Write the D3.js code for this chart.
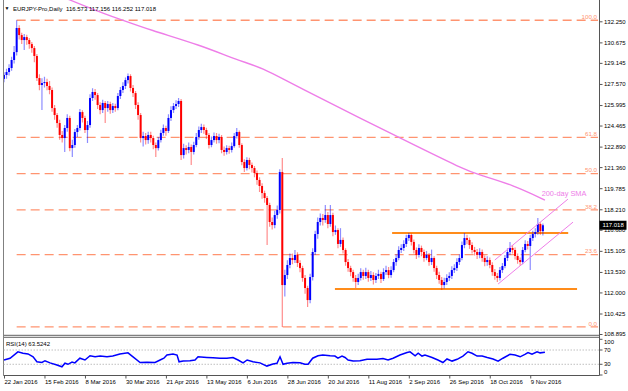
<!DOCTYPE html>
<html><head><meta charset="utf-8">
<script src="https://cdn.jsdelivr.net/npm/d3@7"></script>
<style>
html,body{margin:0;padding:0;background:#fff;}
svg{display:block;font-family:"Liberation Sans",Arial,sans-serif;}
</style></head><body>
<svg id="chart" width="628" height="391"></svg>
<script>
// ---------------- DATA ----------------
const symbolName = "EURJPY-Pro,Daily";
const lastOHLC = [116.573, 117.156, 116.252, 117.018];
const firstOpen = 127.95;
const closes = [
128.24,128.46,128.76,129.36,129.95,131.75,131.22,130.85,131.07,130.85,
130.55,130.25,129.66,128.01,127.49,127.64,127.71,127.42,127.12,125.77,
125.25,124.65,123.76,123.53,124.28,125.03,122.78,123.01,123.98,124.28,
125.47,125.03,124.13,124.50,126.52,126.97,126.74,126.00,125.62,126.15,
125.77,126.07,125.62,125.92,125.77,126.67,127.12,127.42,127.86,128.16,
127.27,126.89,126.00,125.25,123.53,123.68,123.38,123.76,123.53,123.01,
122.78,123.38,123.91,124.28,124.06,125.03,125.62,125.92,126.07,126.30,
122.26,122.78,122.64,122.86,122.49,123.01,123.61,124.13,124.35,124.13,
123.76,123.01,123.38,123.68,123.38,123.61,122.64,122.49,122.78,122.64,
122.93,123.68,123.98,123.01,121.74,121.29,121.89,121.52,121.29,120.92,
120.40,119.95,119.42,119.05,118.53,117.26,117.03,117.78,118.16,120.99,
112.55,113.30,114.05,114.57,114.42,114.80,114.20,113.82,113.08,112.33,
111.43,113.15,115.02,116.36,117.26,117.56,117.41,117.78,117.11,117.78,
116.51,116.66,115.62,115.92,115.17,114.27,113.82,113.52,113.08,112.78,
113.08,113.52,113.23,113.52,113.08,113.30,112.93,113.23,113.38,113.00,
113.52,113.67,113.30,113.67,114.27,114.57,115.17,115.32,115.62,116.06,
116.29,115.77,115.17,114.80,115.32,115.02,114.57,114.80,114.27,114.57,
113.82,113.30,112.93,112.55,112.78,113.08,113.23,113.67,113.82,114.27,
114.57,115.54,116.06,115.92,115.54,115.17,115.02,114.80,115.02,114.57,
114.27,114.42,114.05,113.52,113.23,113.08,113.67,113.97,114.57,115.02,
115.32,115.17,114.72,114.42,114.27,115.17,115.62,115.47,116.06,116.36,
116.51,117.11,116.573,117.018];
const highs = [
128.45,128.70,129.05,129.60,130.40,132.33,131.95,131.40,131.30,131.25,
131.00,130.70,130.40,129.80,128.30,128.00,128.10,127.95,127.80,127.30,
126.00,125.40,124.90,124.05,124.50,125.30,125.20,123.40,124.20,124.50,
125.70,125.60,125.20,124.80,126.80,127.25,127.20,126.90,126.20,126.40,
126.30,126.30,126.25,126.15,126.10,126.90,127.35,127.70,128.05,128.35,
128.30,127.50,127.05,126.20,125.40,124.00,123.90,124.00,124.00,123.70,
123.20,123.60,124.15,124.55,124.45,125.30,125.90,126.15,126.35,126.52,
126.45,123.10,123.00,123.20,123.05,123.25,123.90,124.40,124.60,124.55,
124.30,123.90,123.65,123.95,123.90,123.85,123.75,122.90,123.00,122.95,
123.20,123.90,124.28,124.10,123.15,121.95,122.10,122.05,121.70,121.45,
121.10,120.60,120.15,119.60,119.20,118.70,117.60,118.10,118.50,121.20,
122.04,113.70,114.40,114.90,114.90,115.17,115.00,114.40,114.00,113.30,
112.50,113.40,115.30,116.60,117.60,117.90,117.85,118.53,118.00,118.53,
117.95,117.00,116.80,116.80,116.10,115.30,114.50,114.00,113.70,113.30,
113.40,113.80,113.70,113.85,113.70,113.60,113.50,113.45,113.70,113.55,
113.80,114.00,113.90,113.95,114.50,114.85,115.45,115.60,115.90,116.30,
116.44,116.40,115.95,115.35,115.60,115.50,115.20,115.10,114.95,115.20,
114.70,114.00,113.55,113.15,113.10,113.35,113.50,113.95,114.10,114.55,
114.85,115.80,116.44,116.30,116.10,115.75,115.40,115.25,115.30,115.20,
114.75,114.70,114.60,114.25,113.75,113.45,113.90,114.20,114.80,115.30,
115.77,115.55,115.35,114.90,114.60,115.40,115.90,115.85,116.30,116.60,
116.80,117.56,117.25,117.156];
const lows = [
127.70,127.95,128.20,128.55,129.10,129.70,130.90,130.55,130.10,130.50,
130.20,129.90,129.20,127.80,127.10,125.62,127.30,127.10,126.80,125.50,
124.90,124.30,123.40,123.20,122.49,124.00,122.55,122.11,122.80,123.60,
124.10,124.70,123.90,123.16,124.30,126.30,126.40,125.70,125.30,125.40,
124.65,125.50,125.35,125.40,125.50,125.60,126.45,126.90,127.20,127.60,
127.00,126.60,125.70,124.90,123.20,122.90,123.05,123.10,123.20,122.70,
122.11,122.60,123.20,123.70,123.70,123.90,124.80,125.40,125.70,125.85,
121.90,122.00,122.30,122.40,121.52,122.30,122.85,123.40,123.90,123.85,
123.45,122.75,122.85,123.20,123.10,123.15,122.40,122.20,122.30,122.35,
122.45,122.80,123.50,122.80,121.50,121.00,121.10,121.20,120.95,120.60,
120.05,119.50,119.00,118.70,115.54,116.90,116.70,116.80,117.50,117.90,
109.42,111.70,113.00,113.80,114.10,114.20,113.90,113.50,112.80,111.90,
110.91,111.20,112.90,114.80,116.00,117.00,117.00,117.20,116.80,116.90,
116.20,116.30,115.30,115.40,114.90,114.00,113.55,113.20,112.80,112.33,
112.55,112.90,112.95,113.00,112.80,112.85,112.60,112.70,113.00,112.70,
112.85,113.30,113.05,113.10,113.50,114.00,114.40,114.95,115.10,115.40,
115.85,115.50,114.90,114.50,114.60,114.70,114.30,114.40,114.00,114.05,
113.55,113.00,112.65,112.18,112.30,112.55,112.85,113.00,113.45,113.60,
114.05,114.40,115.30,115.60,115.25,114.90,114.75,114.50,114.55,114.30,
113.95,114.00,113.80,113.25,112.95,112.78,112.90,113.45,113.80,114.35,
114.80,114.90,114.45,114.15,114.00,114.10,115.00,115.20,113.67,115.85,
116.10,116.30,116.30,116.252];

// 200-day SMA, read at bar positions
const smaIdx = [24, 36, 44.7, 57.7, 77.5, 92.1, 102.4, 113, 156.5, 182.2, 188.1, 201.2, 213.8];
const smaVal = [134.0, 133.07, 132.48, 131.60, 130.48, 129.36, 128.76, 127.64, 123.53, 121.14, 120.77, 120.02, 118.90];

// RSI(14)
const rsiIdx = [0,2.4,5.5,7.5,9.5,11.5,13,15,16.2,18.2,20.9,22.9,24.1,25.3,26.9,28,30,32,34,36,38,40.7,43,45.8,49,51,53.8,56.5,59.7,61.7,63.2,64.4,66.8,68.4,69.2,70.8,73.5,75.5,76.7,80.2,82.6,85.4,88.1,90.5,92.5,94.5,96.1,98.4,101.2,103.9,106.3,107.9,109.1,110.3,111.9,114.2,117,118.9,120.2,122,124.1,126,128.9,130.8,132,133.6,134.8,136,138,140.7,143.5,147.4,149.8,151.8,153.8,156.5,159.3,160.5,162.5,163.7,165.2,166.4,169.2,171.5,173.5,175.1,177.1,179.1,181.4,183.4,185,187,189,191,193.3,195.3,197.2,200,202,204,205.9,207.1,208.7,210.7,211.9,213.8];
const rsiVal = [42,47,65,61,59,51,37,35,40,34,28,23,33,30,36,34,47,42,54,51,53,51,53,59,62,51,35,36,35,42,47,56,59,56,37,39,40,42,51,49,48,47,47,49,42,34,42,37,34,25,31,33,51,30,33,35,34,30,30,47,54,56,54,53,47,53,49,42,39,40,44,44,46,42,47,56,63,65,54,61,53,56,49,42,35,45,39,44,53,65,61,53,53,49,45,39,47,58,56,51,58,63,58,65,62,63.52];
const rsiLabel = "RSI(14) 63.5242";
const rsiLevels = [70, 30];
const rsiTicks = [100, 70, 30, 0];

// Fibonacci retracement (high -> low)
const fibHigh = 132.33, fibLow = 109.42, fibStartIdx = 5;
const fibLevels = [0, 23.6, 38.2, 50, 61.8, 100];

// Support / resistance (orange) lines
const srLines = [
  {from: 153.4, to: 223, price: 116.43},
  {from: 130.8, to: 226.5, price: 112.25}
];
// Rising channel (violet)
const channel = [
  {i1: 194, p1: 114.42, i2: 222.9, p2: 118.97},
  {i1: 195.3, p1: 112.63, i2: 224.9, p2: 117.25}
];
const smaLabel = {text: "200-day SMA", idx: 212.5, price: 119.45};

const priceTicks = [108.895,110.425,112.000,113.530,115.105,116.680,118.210,119.785,121.360,122.890,124.465,125.995,127.570,129.145,130.675,132.250];
const dateIdx = [0,16,32,48,64,80,96,112,128,144,160,176,192,208];
const dateLabels = ["22 Jan 2016","15 Feb 2016","8 Mar 2016","30 Mar 2016","21 Apr 2016","13 May 2016","6 Jun 2016","28 Jun 2016","20 Jul 2016","11 Aug 2016","2 Sep 2016","26 Sep 2016","18 Oct 2016","9 Nov 2016"];

// ---------------- DRAW ----------------
const svg = d3.select("#chart");
const L = 3.5, R = 599.5, mainBottom = 335.5, rsiTop = 337.5, rsiBottom = 375.5;

const x = d3.scaleLinear().domain([0, 234.78]).range([4, 598]);
const y = d3.scaleLinear().domain([108.895, 132.25]).range([334, 21.3]);
const yr = d3.scaleLinear().domain([0, 100]).range([375, 339.3]);

const bars = closes.map((c, i) => ({i, o: i === 0 ? firstOpen : closes[i-1], h: highs[i], l: lows[i], c}));

svg.append("defs").append("clipPath").attr("id", "clipMain")
  .append("rect").attr("x", L).attr("y", 0).attr("width", R - L).attr("height", mainBottom);
const main = svg.append("g").attr("clip-path", "url(#clipMain)");

// fib lines
const fibColor = "#ff9470";
fibLevels.forEach(lv => {
  const p = fibLow + (fibHigh - fibLow) * lv / 100;
  main.append("line")
    .attr("x1", x(fibStartIdx)).attr("x2", 598)
    .attr("y1", y(p)).attr("y2", y(p))
    .attr("stroke", fibColor).attr("stroke-width", 1.3)
    .attr("stroke-dasharray", "9,5");
  main.append("text")
    .attr("x", 597).attr("y", y(p) - 1.2)
    .attr("text-anchor", "end").attr("font-size", 6.2)
    .attr("fill", fibColor).text(lv.toFixed(1));
});

// orange S/R lines
srLines.forEach(s => {
  main.append("line")
    .attr("x1", x(s.from)).attr("x2", x(s.to))
    .attr("y1", y(s.price)).attr("y2", y(s.price))
    .attr("stroke", "#ff8c1a").attr("stroke-width", 2);
});

// candles
const cg = main.append("g");
cg.selectAll("line.wick").data(bars).join("line")
  .attr("class", "wick")
  .attr("x1", d => x(d.i)).attr("x2", d => x(d.i))
  .attr("y1", d => y(d.h)).attr("y2", d => y(d.l))
  .attr("stroke", d => d.c >= d.o ? "#0000ff" : "#ff0000")
  .attr("stroke-opacity", 0.45).attr("stroke-width", 1.2);
cg.selectAll("rect.body").data(bars).join("rect")
  .attr("class", "body")
  .attr("x", d => x(d.i) - 1).attr("width", 2)
  .attr("y", d => y(Math.max(d.o, d.c)))
  .attr("height", d => Math.max(1, Math.abs(y(d.o) - y(d.c))))
  .attr("fill", d => d.c >= d.o ? "#0000ff" : "#ff0000");

// SMA
const violet = "#ee7ee8";
main.append("path")
  .datum(smaIdx.map((v, k) => [v, smaVal[k]]))
  .attr("fill", "none").attr("stroke", violet).attr("stroke-width", 1.4)
  .attr("d", d3.line().x(d => x(d[0])).y(d => y(d[1])).curve(d3.curveBasis));
main.append("text")
  .attr("x", x(smaLabel.idx)).attr("y", y(smaLabel.price) + 3)
  .attr("font-size", 7.4).attr("fill", violet).text(smaLabel.text);

// channel
channel.forEach(c => {
  main.append("line")
    .attr("x1", x(c.i1)).attr("y1", y(c.p1))
    .attr("x2", x(c.i2)).attr("y2", y(c.p2))
    .attr("stroke", violet).attr("stroke-width", 1);
});

// header
const hdr = svg.append("g");
hdr.append("text").attr("x", 4.5).attr("y", 10.3).attr("font-size", 5).attr("fill", "#000").text("▼");
hdr.append("text").attr("x", 13).attr("y", 11).attr("font-size", 6).attr("fill", "#000").text(symbolName);
hdr.append("text").attr("x", 66).attr("y", 11).attr("font-size", 6).attr("fill", "#000").text(lastOHLC.map(v => v.toFixed(3)).join(" "));

// frames
const frame = svg.append("g").attr("stroke", "#808080").attr("fill", "none");
frame.append("line").attr("x1", L).attr("x2", L).attr("y1", 0).attr("y2", rsiBottom);
frame.append("line").attr("x1", L).attr("x2", R).attr("y1", mainBottom).attr("y2", mainBottom).attr("stroke-width", 1.5);
frame.append("line").attr("x1", L).attr("x2", R).attr("y1", rsiTop).attr("y2", rsiTop);
frame.append("line").attr("x1", L).attr("x2", R).attr("y1", rsiBottom).attr("y2", rsiBottom).attr("stroke", "#555");
frame.append("line").attr("x1", R).attr("x2", R).attr("y1", 0).attr("y2", rsiBottom).attr("stroke", "#555");

// price axis
const yAxis = svg.append("g").attr("transform", `translate(${R},0)`)
  .call(d3.axisRight(y).tickValues(priceTicks).tickSize(3).tickPadding(1.5).tickFormat(d => d.toFixed(3)));
yAxis.select(".domain").remove();
yAxis.selectAll("line").attr("stroke", "#555");
yAxis.selectAll("text").attr("font-size", 6).attr("fill", "#000").attr("font-family", "Liberation Sans, Arial, sans-serif");

// current price box
const cy = y(lastOHLC[3]);
svg.append("rect").attr("x", R).attr("y", cy - 4.5).attr("width", 27).attr("height", 9).attr("fill", "#000");
svg.append("text").attr("x", R + 3).attr("y", cy + 2.2).attr("font-size", 6).attr("fill", "#fff").text(lastOHLC[3].toFixed(3));

// RSI panel
const rg = svg.append("g");
rsiLevels.forEach(v => {
  rg.append("line").attr("x1", L).attr("x2", R).attr("y1", yr(v)).attr("y2", yr(v))
    .attr("stroke", "#b0b0b0").attr("stroke-width", 0.8).attr("stroke-dasharray", "1.5,1.5");
});
rg.append("path")
  .datum(rsiIdx.map((v, k) => [v, rsiVal[k]]))
  .attr("fill", "none").attr("stroke", "#0000ff").attr("stroke-width", 1.5)
  .attr("d", d3.line().x(d => x(d[0])).y(d => yr(d[1])));
rg.append("text").attr("x", 6).attr("y", 346.2).attr("font-size", 6).attr("fill", "#000").text(rsiLabel);
rsiTicks.forEach(v => {
  const ty = Math.min(372, Math.max(342, yr(v)));
  rg.append("line").attr("x1", R).attr("x2", R + 3).attr("y1", yr(v)).attr("y2", yr(v)).attr("stroke", "#555");
  rg.append("text").attr("x", R + 4.5).attr("y", ty + 2.1).attr("font-size", 6).attr("fill", "#000").text(v);
});

// date axis
const xAxis = svg.append("g").attr("transform", `translate(0,${rsiBottom})`)
  .call(d3.axisBottom(x).tickValues(dateIdx).tickSize(3).tickPadding(1.5).tickFormat((d, k) => dateLabels[k]));
xAxis.select(".domain").remove();
xAxis.selectAll("line").attr("stroke", "#555");
xAxis.selectAll("text").attr("font-size", 6).attr("fill", "#000").attr("text-anchor", "start")
  .attr("font-family", "Liberation Sans, Arial, sans-serif");
</script>
</body></html>
